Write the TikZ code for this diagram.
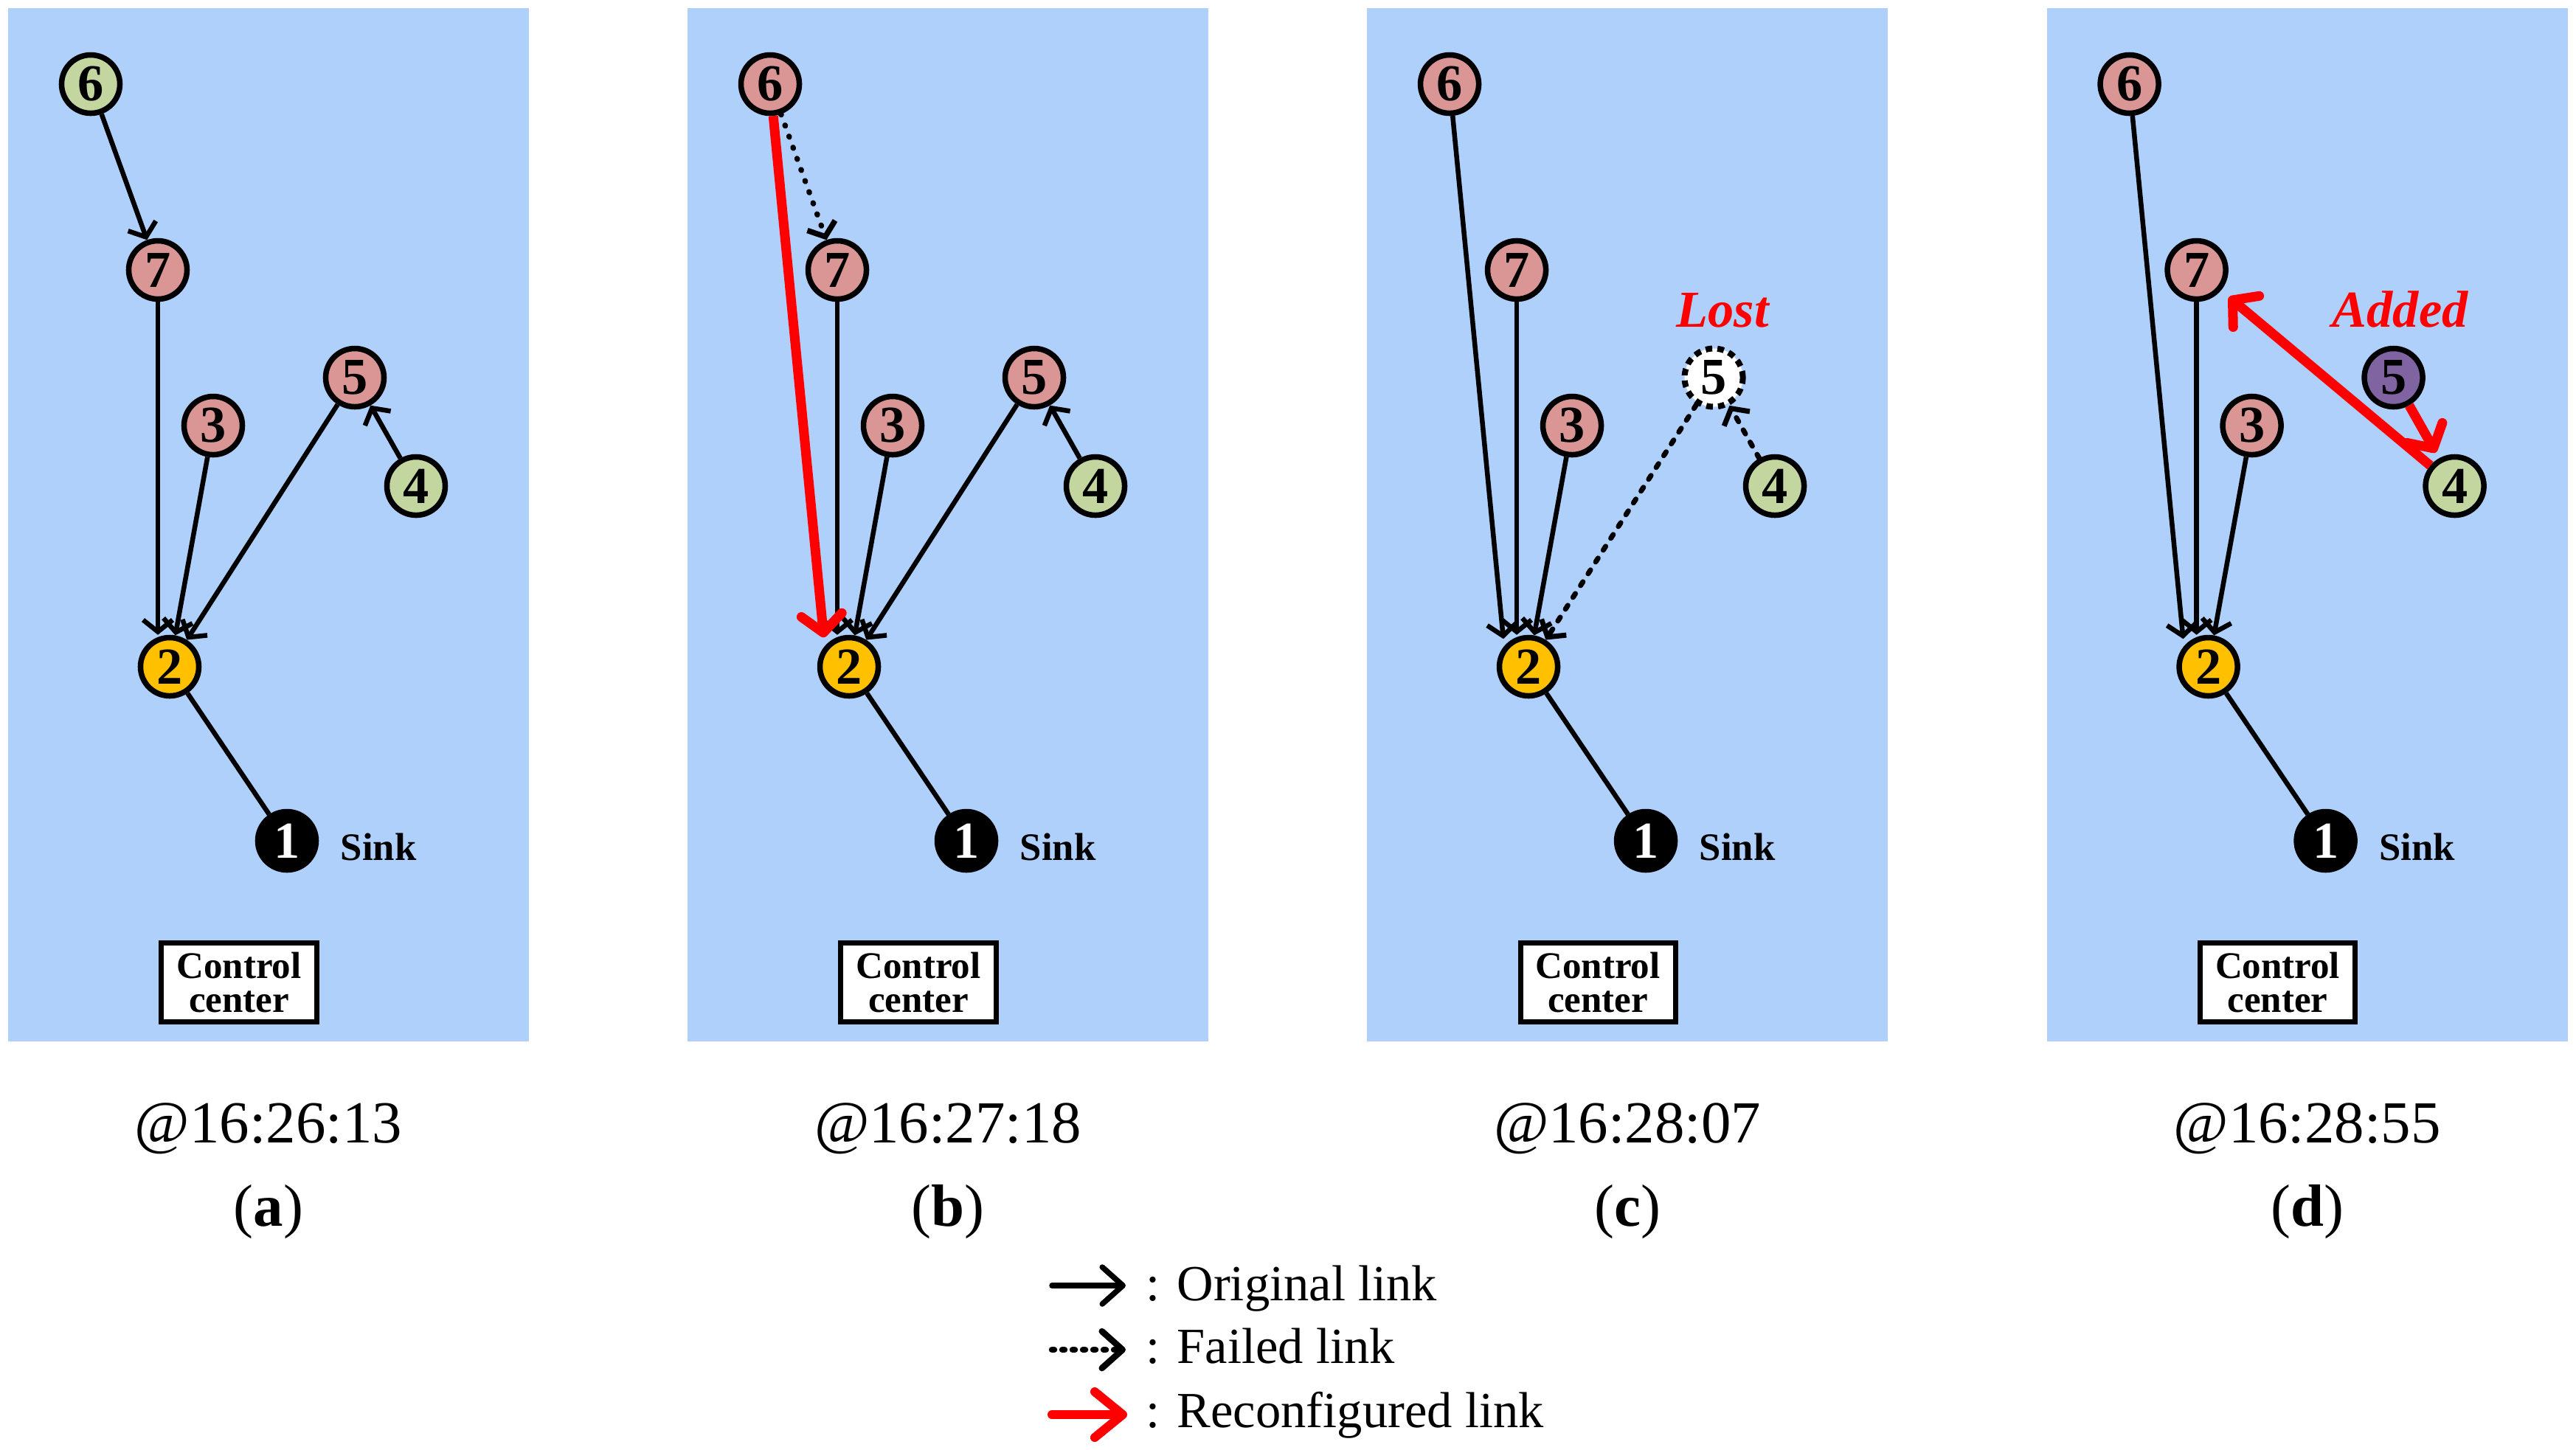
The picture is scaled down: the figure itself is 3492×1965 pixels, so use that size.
\documentclass[tikz,border=0pt]{standalone}
\usepackage{fontspec}
\setmainfont{Liberation Serif}
\usetikzlibrary{arrows.meta,calc}
\definecolor{bgblue}{RGB}{176,208,252}
\definecolor{ngreen}{RGB}{196,214,160}
\definecolor{npink}{RGB}{217,150,148}
\definecolor{nyellow}{RGB}{255,192,0}
\definecolor{npurple}{RGB}{128,100,162}
\definecolor{lred}{RGB}{255,0,0}
\begin{document}
\begin{tikzpicture}[x=0.01cm,y=-0.01cm,
  nd/.style={circle,draw=black,line width=0.075cm,minimum size=0.79cm,inner sep=0pt,
    font=\fontsize{20}{20}\selectfont\bfseries},
  gnode/.style={nd,fill=ngreen},
  pnode/.style={nd,fill=npink},
  ynode/.style={nd,fill=nyellow},
  knode/.style={nd,fill=black,text=white},
  vnode/.style={nd,fill=npurple},
  lostnode/.style={nd,fill=white,line width=0.08cm,dash pattern=on 0.09cm off 0.07cm},
  panel/.style={fill=bgblue},
  sinklbl/.style={anchor=base west,inner sep=0pt,font=\fontsize{15}{15}\selectfont\bfseries},
  ctrl/.style={draw=black,fill=white,line width=0.07cm,minimum width=2.1cm,minimum height=1.07cm,
    inner sep=0pt,align=center,font=\fontsize{14.5}{13}\selectfont\bfseries},
  stamp/.style={anchor=base,inner sep=0pt,font=\fontsize{23}{23}\selectfont},
  tag/.style={anchor=base,inner sep=0pt,font=\fontsize{23}{23}\selectfont},
  event/.style={anchor=base,inner sep=0pt,text=lred,font=\fontsize{20}{20}\selectfont\bfseries\itshape},
  orig/.style={line width=0.065cm,-{Straight Barb[length=0.16cm,width=0.4cm]}},
  plain/.style={line width=0.065cm},
  faildot/.style={orig,line cap=round,dash pattern=on 0.01cm off 0.15cm},
  faildash/.style={orig,line cap=round,dash pattern=on 0.06cm off 0.13cm},
  reconf/.style={line width=0.13cm,draw=lred,-{Straight Barb[length=0.24cm,width=0.55cm,round]}},
  legtext/.style={anchor=base west,inner sep=0pt,font=\fontsize{19.5}{19.5}\selectfont}
]
\fill[white] (0,0) rectangle (3492,1965);
\path[use as bounding box] (0,0) rectangle (3492,1965);

% ---------------- panel (a)
\begin{scope}
\fill[panel] (11,11) rectangle (717,1412);
\node[gnode] (a6) at (123,114) {6};
\node[pnode] (a7) at (214,366) {7};
\node[pnode] (a3) at (289,577) {3};
\node[pnode] (a5) at (481,512) {5};
\node[gnode] (a4) at (564,659) {4};
\node[ynode] (a2) at (230,904) {2};
\node[knode] (a1) at (389,1140) {1};
\node[sinklbl] (as) at (461,1166) {Sink};
\node[ctrl] (ac) at (324,1332) {Control\\center};
\node[stamp] (at) at (364,1549) {@16:26:13};
\node[tag] (al) at (364,1662) {(\textbf{a})};
\draw[orig] (a6) -- (a7);
\draw[orig] (a7) -- (a7 |- a2.north);
\draw[orig] (a3) -- (a2);
\draw[orig] (a5) -- (a2);
\draw[orig] (a4) -- (a5);
\draw[plain] (a2) -- (a1);
\end{scope}

% ---------------- panel (b)
\begin{scope}[xshift=9.205cm]
\fill[panel] (11,11) rectangle (717,1412);
\node[pnode] (b6) at (123,114) {6};
\node[pnode] (b7) at (214,366) {7};
\node[pnode] (b3) at (289,577) {3};
\node[pnode] (b5) at (481,512) {5};
\node[gnode] (b4) at (564,659) {4};
\node[ynode] (b2) at (230,904) {2};
\node[knode] (b1) at (389,1140) {1};
\node[sinklbl] (bs) at (461,1166) {Sink};
\node[ctrl] (bc) at (324,1332) {Control\\center};
\node[stamp] (bt) at (364,1549) {@16:27:18};
\node[tag] (bl) at (364,1662) {(\textbf{b})};
\draw[faildot,line width=0.075cm] (b6) -- (b7);
\draw[orig] (b7) -- (b7 |- b2.north);
\draw[orig] (b3) -- (b2);
\draw[orig] (b5) -- (b2);
\draw[orig] (b4) -- (b5);
\draw[plain] (b2) -- (b1);
\draw[reconf,shorten >=0.12cm] (b6) -- (b2.140);
\end{scope}

% ---------------- panel (c)
\begin{scope}[xshift=18.41cm]
\fill[panel] (11,11) rectangle (717,1412);
\node[pnode] (c6) at (123,114) {6};
\node[pnode] (c7) at (214,366) {7};
\node[pnode] (c3) at (289,577) {3};
\node[lostnode] (c5) at (481,512) {5};
\node[gnode] (c4) at (564,659) {4};
\node[ynode] (c2) at (230,904) {2};
\node[knode] (c1) at (389,1140) {1};
\node[sinklbl] (cs) at (461,1166) {Sink};
\node[ctrl] (cc) at (324,1332) {Control\\center};
\node[stamp] (ct) at (364,1549) {@16:28:07};
\node[tag] (cl) at (364,1662) {(\textbf{c})};
\node[event] (clost) at (493,443) {Lost};
\draw[orig,shorten >=0.1cm] (c6) -- (c2.140);
\draw[orig] (c7) -- (c7 |- c2.north);
\draw[orig] (c3) -- (c2);
\draw[faildash,line width=0.07cm] (c5) -- (c2);
\draw[faildash,line width=0.07cm] (c4) -- (c5);
\draw[plain] (c2) -- (c1);
\end{scope}

% ---------------- panel (d)
\begin{scope}[xshift=27.62cm]
\fill[panel] (11,11) rectangle (717,1412);
\node[pnode] (d6) at (123,114) {6};
\node[pnode] (d7) at (214,366) {7};
\node[pnode] (d3) at (289,577) {3};
\node[vnode] (d5) at (481,512) {5};
\node[gnode] (d4) at (564,659) {4};
\node[ynode] (d2) at (230,904) {2};
\node[knode] (d1) at (389,1140) {1};
\node[sinklbl] (ds) at (461,1166) {Sink};
\node[ctrl] (dc) at (324,1332) {Control\\center};
\node[stamp] (dt) at (364,1549) {@16:28:55};
\node[tag] (dl) at (364,1662) {(\textbf{d})};
\node[event] (dadd) at (490,443) {Added};
\draw[orig,shorten >=0.1cm] (d6) -- (d2.140);
\draw[orig] (d7) -- (d7 |- d2.north);
\draw[orig] (d3) -- (d2);
\draw[plain] (d2) -- (d1);
\draw[reconf,shorten >=0.14cm] (d4) -- (d7);
\draw[reconf,shorten >=0.09cm] (d5) -- (d4);
\end{scope}

% ---------------- legend
\node[legtext] (lg1) at (1553,1763) {: Original link};
\node[legtext] (lg2) at (1553,1848) {: Failed link};
\node[legtext] (lg3) at (1553,1935) {: Reconfigured link};
\coordinate (s1) at (1426,1743); \coordinate (e1) at (1526,1743);
\coordinate (s2) at (1426,1830); \coordinate (e2) at (1526,1830);
\coordinate (s3) at (1426,1918); \coordinate (e3) at (1528,1918);
\draw[line width=0.075cm,line cap=round,-{Straight Barb[length=0.28cm,width=0.5cm,round]}] (s1) -- (e1);
\draw[line width=0.085cm,line cap=round,dash pattern=on 0.03cm off 0.11cm,-{Straight Barb[length=0.28cm,width=0.5cm,round]}] (s2) -- (e2);
\draw[line width=0.12cm,draw=lred,line cap=round,-{Straight Barb[length=0.38cm,width=0.62cm,round]}] (s3) -- (e3);
\end{tikzpicture}
\end{document}
